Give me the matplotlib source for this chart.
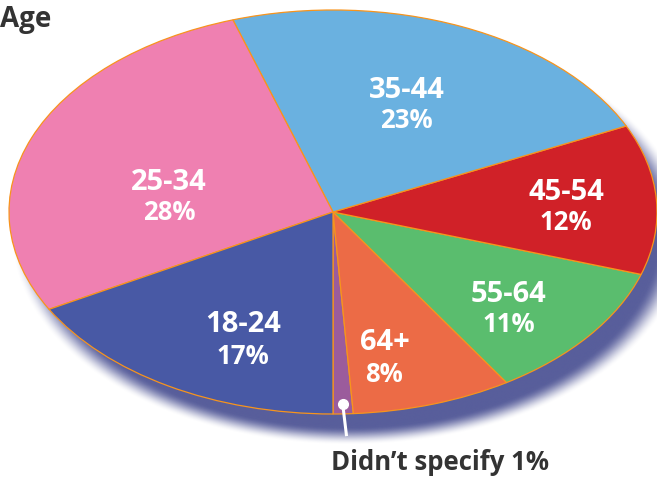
import numpy as np
import matplotlib.pyplot as plt
from matplotlib.colors import to_rgb

# Data (counter-clockwise from the bottom)
groups = ["Didn’t specify", "64+", "55-64", "45-54", "35-44", "25-34", "18-24"]
shares = [1, 8, 11, 12, 23, 28, 17]
colors = ["#9b5c9c", "#ec6b46", "#5abd6e", "#d02128", "#6ab1e0", "#ef80b1", "#4859a5"]

W, H = 657, 479
fig = plt.figure(figsize=(W / 100, H / 100), dpi=100)
ax = fig.add_axes([0, 0, 1, 1])

# pie centre at pixel (333, 212), radii 324 x 202 px
cx, cy, rx, ry = 333, 212, 324, 202
xlim = ((0 - cx) / rx, (W - cx) / rx)
ylim = ((cy - H) / ry, (cy - 0) / ry)

# soft drop shadow
xs = np.linspace(xlim[0], xlim[1], 700)
ys = np.linspace(ylim[1], ylim[0], 520)
X, Y = np.meshgrid(xs, ys)
r = np.sqrt((X - 0.05) ** 2 + (Y + 0.11) ** 2)
t = np.clip((1.0 - r) / 0.09 + 0.5, 0, 1)
alpha = t * t * (3 - 2 * t)
img = np.zeros(X.shape + (4,))
img[..., :3] = to_rgb("#585e9b")
img[..., 3] = alpha
ax.imshow(img, extent=[xlim[0], xlim[1], ylim[0], ylim[1]], zorder=0,
          interpolation="bilinear")

wedges, _ = ax.pie(shares, colors=colors, startangle=-90, counterclock=True,
                   radius=1, center=(0, 0),
                   wedgeprops=dict(edgecolor="#f7941d", linewidth=0.9))
for w in wedges:
    w.set_zorder(2)

ax.set_aspect("auto")
ax.set_xlim(*xlim)
ax.set_ylim(*ylim)
ax.axis("off")

# labels (pixel positions of range line, pct line)
label_pos = {
    "64+": ((385, 342), (384, 374)),
    "55-64": ((509, 295), (509, 324)),
    "45-54": ((566, 193), (566, 222)),
    "35-44": ((407, 90), (406, 121)),
    "25-34": ((169, 183), (169, 212)),
    "18-24": ((243, 325), (243, 357)),
}
font = "Open Sans"
for g, s in zip(groups, shares):
    if g not in label_pos:
        continue
    (x1, y1), (x2, y2) = label_pos[g]
    fig.text(x1 / W, 1 - y1 / H, g, color="white", fontsize=21, family=font,
             weight="bold", ha="center", va="center", zorder=5)
    fig.text(x2 / W, 1 - y2 / H, f"{s}%", color="white", fontsize=18.5, family=font,
             weight="bold", ha="center", va="center", zorder=5)

# leader for the tiny slice
mid = np.deg2rad(-90 + 360 * shares[0] / 2 / sum(shares))
dx, dy = 0.95 * np.cos(mid), 0.95 * np.sin(mid)
ax.plot([dx, dx + 0.012], [dy, dy - 0.16], color="white", lw=2.2, zorder=4,
        solid_capstyle="butt")
ax.plot(dx, dy, "o", color="white", ms=7, zorder=4)
fig.text(440 / W, 1 - 463 / H, f"{groups[0]} {shares[0]}%", color="#333333",
         fontsize=18.5, family=font, weight="bold", ha="center", va="center")

fig.text(0, 1 - 19 / H, "Age", color="#333333", fontsize=20, family=font,
         weight="bold", ha="left", va="center")

plt.savefig("out.png", dpi=100)
